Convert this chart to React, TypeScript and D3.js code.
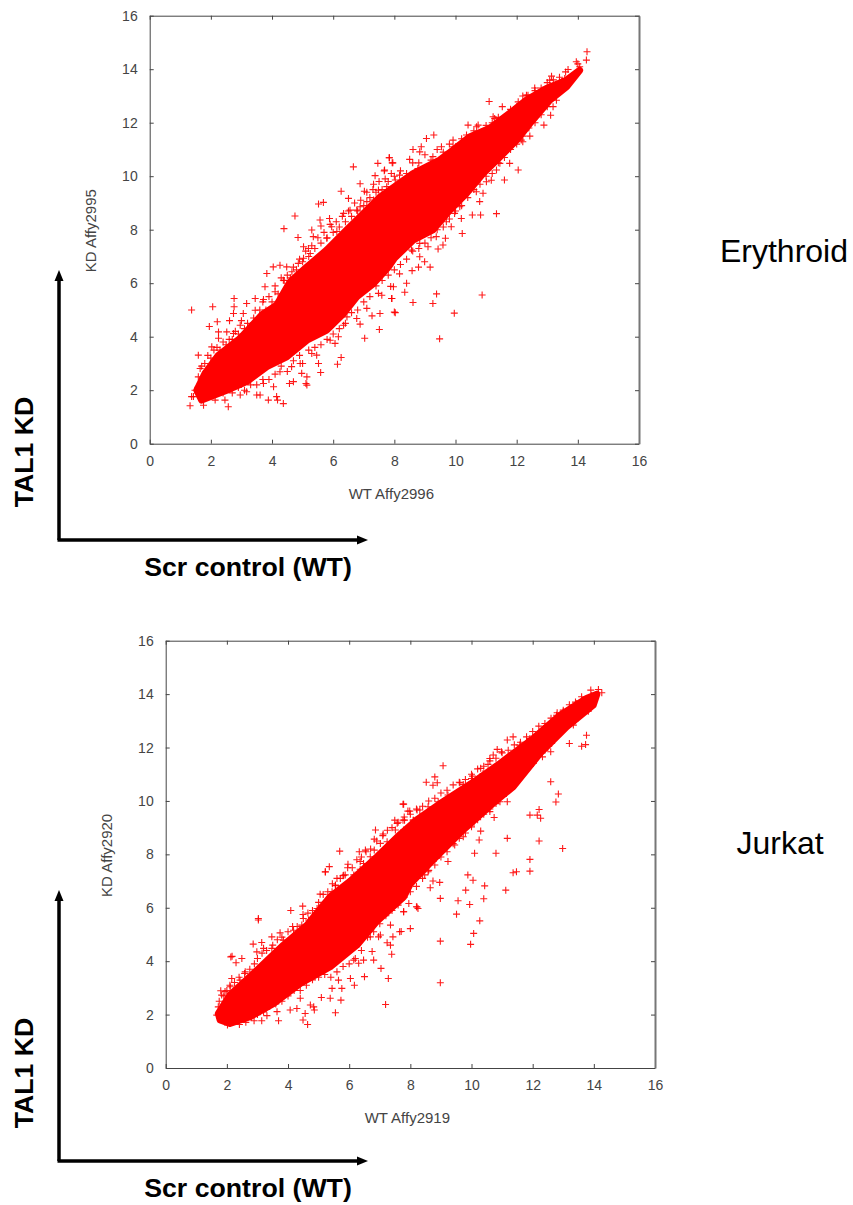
import { useEffect, useRef } from "react";
import * as d3 from "d3";

const WIDTH = 853;
const HEIGHT = 1205;
const RED = "#ff0000";
const FONT = "'Liberation Sans', Arial, sans-serif";
const TICKS = [0, 2, 4, 6, 8, 10, 12, 14, 16];

type Pt = [number, number];

// solid part of the cloud, read as an upper and a lower edge
const erythroidUpper: Pt[] = [[1.54, 2.0], [1.81, 2.63], [2.25, 3.31], [2.96, 3.94], [3.66, 4.81], [4.15, 5.18], [4.59, 6.05], [5.14, 6.61], [5.79, 7.24], [6.44, 7.99], [6.99, 8.61], [7.54, 9.23], [8.0, 9.6], [8.61, 10.1], [9.48, 10.6], [9.92, 10.98], [10.46, 11.47], [11.12, 11.79], [11.77, 12.35], [12.32, 12.85], [12.97, 13.28], [13.63, 13.59], [14.06, 13.96]];
const erythroidLower: Pt[] = [[1.7, 1.63], [2.52, 2.0], [3.17, 2.32], [3.83, 2.88], [4.48, 3.25], [5.14, 3.87], [5.79, 4.25], [6.34, 4.87], [6.77, 5.49], [7.32, 5.99], [7.81, 6.61], [8.0, 6.93], [8.61, 7.61], [9.26, 7.99], [9.81, 8.73], [10.36, 9.36], [10.9, 10.1], [11.45, 10.72], [12.0, 11.35], [12.43, 11.97], [13.08, 12.84], [13.63, 13.34]];

const erythroidPoints: Pt[] = [
  [1.37, 5.0], [2.06, 5.12], [1.95, 4.38], [2.21, 4.56], [2.61, 4.6], [2.76, 5.43], [2.76, 5.12], [2.74, 4.87], [1.32, 1.42], [2.57, 1.38],
  [4.37, 1.5], [3.88, 1.63], [4.18, 1.63], [5.59, 2.66], [6.14, 2.97], [6.26, 3.22], [7.03, 3.94], [7.51, 4.27], [7.27, 4.78], [7.53, 4.87],
  [8.03, 4.9], [7.92, 5.43], [6.88, 4.47], [6.17, 4.0], [6.06, 3.75], [5.11, 2.25], [4.57, 2.25], [5.14, 2.5], [5.52, 3.0],
  [10.87, 5.56], [9.96, 4.88], [9.48, 3.92], [9.38, 5.6], [9.26, 5.24], [8.61, 5.28], [8.34, 5.66], [8.4, 6.0], [8.0, 4.92], [7.91, 5.43],
  [7.88, 5.88], [9.17, 6.6], [8.79, 6.6], [8.58, 6.47], [8.17, 6.35], [8.99, 6.8],
  [4.39, 8.04], [4.75, 8.51], [4.85, 7.71], [5.52, 8.96], [5.68, 9.02], [6.26, 9.44], [6.66, 10.35], [6.88, 9.72], [7.46, 10.48], [7.84, 10.69],
  [7.95, 10.5], [7.67, 10.2], [7.37, 10.02], [7.32, 9.7], [5.57, 8.36], [5.6, 8.14], [5.3, 7.99], [5.88, 8.42], [6.5, 9.17], [7.02, 9.44], [5.03, 7.36],
  [14.3, 14.65], [14.28, 14.34], [14.0, 14.2], [13.68, 13.99], [13.14, 13.74], [11.1, 12.79], [11.53, 12.6], [12.32, 13.03], [12.59, 13.3], [13.11, 12.28],
  [12.89, 11.91], [12.43, 11.5], [12.2, 11.29], [12.05, 10.23], [11.77, 10.48], [11.6, 9.86], [11.34, 8.6], [10.82, 8.55], [10.55, 8.55], [10.19, 8.42],
  [10.22, 7.86], [9.67, 7.68], [9.43, 7.28], [9.1, 7.36], [9.29, 11.54], [9.05, 11.41], [8.61, 11.0], [7.83, 10.69], [7.93, 10.5], [8.5, 10.63],
  [10.41, 11.91], [10.74, 11.91], [9.92, 11.35], [11.23, 12.22], [10.79, 9.05], [11.17, 9.85],
  // fringe along the upper edge
  [1.59, 3.31], [1.65, 2.81], [1.59, 2.5], [1.48, 2.0], [1.43, 1.76], [2.03, 3.62], [2.25, 3.94], [2.25, 4.18], [2.52, 4.18], [2.74, 4.12],
  [2.96, 4.43], [3.06, 4.87], [3.17, 5.24], [3.45, 5.43], [3.45, 4.99], [3.72, 5.39], [3.77, 5.87], [4.1, 5.68], [3.83, 6.36], [4.04, 6.61],
  [4.37, 6.11], [4.26, 6.67], [4.48, 6.61], [4.65, 6.43], [4.86, 6.74], [5.25, 7.11], [5.03, 6.93], [5.19, 7.3], [5.35, 7.74], [5.79, 7.68],
  [5.95, 8.11], [6.12, 7.93], [6.34, 8.61], [6.55, 8.73], [6.77, 8.73], [6.88, 8.86], [7.1, 9.05], [7.32, 9.11], [7.48, 9.48], [7.75, 9.61],
  [8.03, 9.86], [7.68, 10.23], [8.17, 10.04], [8.77, 10.29], [8.88, 11.1], [8.83, 10.91], [9.26, 10.73], [9.54, 11.1], [9.92, 11.1], [10.36, 11.54],
  [10.69, 11.85], [11.02, 11.72], [11.28, 12.16], [11.72, 12.28], [12.05, 12.78], [12.37, 13.03], [12.86, 13.22], [13.08, 13.59], [13.57, 13.65], [13.95, 14.28], [14.06, 14.09],
  // fringe along the lower edge
  [1.37, 1.76], [1.76, 1.44], [2.14, 1.63], [2.46, 1.63], [2.96, 1.82], [3.5, 1.82], [3.61, 1.82], [3.17, 1.94], [3.72, 2.25], [4.05, 2.13],
  [4.15, 1.76], [4.26, 2.69], [4.64, 2.88], [4.7, 2.32], [4.97, 2.63], [5.14, 2.19], [4.92, 3.0], [5.3, 3.37], [5.46, 3.31], [5.9, 3.87],
  [6.34, 4.43], [6.45, 4.74], [6.77, 4.68], [7.1, 5.06], [7.48, 5.62], [7.59, 5.55], [7.97, 5.87],
  [13.3, 12.84], [13.19, 12.6], [12.65, 12.22], [12.15, 11.35], [11.88, 11.23], [11.45, 10.48], [11.34, 10.23], [11.01, 9.79], [10.9, 9.36], [10.68, 9.42],
  [10.41, 9.42], [10.14, 8.86], [9.97, 8.61], [9.7, 8.3], [9.86, 8.11], [9.37, 7.74], [9.59, 7.43], [8.83, 7.49], [8.56, 7.24], [8.83, 6.99],
];

// crowded marks right next to the solid part
const erythroidCrowd: Pt[] = [
  [1.7, 2.9], [1.8, 3.0], [1.9, 3.3], [2.0, 3.2], [2.1, 3.5], [2.2, 3.6], [2.3, 3.5], [2.4, 3.8], [2.5, 3.7], [2.6, 3.9], [2.7, 3.9], [2.8, 4.2], [2.9, 4.1], [3.0, 4.6],
  [3.1, 4.3], [3.2, 4.5], [3.3, 4.4], [3.4, 4.7], [3.5, 4.6], [3.6, 5.0], [3.7, 5.3], [3.8, 5.0], [3.9, 5.5], [4.0, 5.3], [4.1, 5.9], [4.2, 5.6], [4.3, 6.2], [4.4, 6.1],
  [4.5, 6.3], [4.6, 6.2], [4.7, 6.6], [4.8, 6.5], [4.9, 6.9], [5.0, 6.8], [5.1, 7.2], [5.2, 7.0], [5.3, 7.4], [5.4, 7.3], [5.5, 7.7], [5.6, 7.5], [5.7, 7.9], [5.8, 7.7],
  [5.9, 8.2], [6.0, 7.9], [6.1, 8.3], [6.2, 8.1], [6.3, 8.5], [6.4, 8.3], [6.5, 8.7], [6.6, 8.5], [6.7, 9.0], [6.8, 8.7], [6.9, 9.1], [7.0, 8.9], [7.1, 9.4], [7.2, 9.2],
  [7.3, 9.5], [7.4, 9.4], [7.5, 9.8], [7.6, 9.5], [7.7, 9.9], [7.8, 9.8], [7.9, 10.1], [8.0, 10.0], [8.2, 10.2], [8.4, 10.1], [8.6, 10.5], [8.8, 10.5], [9.0, 10.8], [9.2, 10.6],
  [9.4, 11.0], [9.6, 10.9], [9.8, 11.2], [10.0, 11.1], [10.2, 11.4], [10.4, 11.4], [10.6, 11.7], [10.8, 11.6], [11.0, 11.9], [11.2, 12.0], [11.4, 12.2], [11.6, 12.2], [11.8, 12.5],
  [12.0, 12.6], [12.2, 13.0], [12.4, 12.9], [12.6, 13.2], [12.8, 13.3], [13.0, 13.5], [13.2, 13.6], [13.4, 13.7], [13.6, 13.9],
  [2.0, 1.8], [2.2, 1.9], [2.4, 1.9], [2.7, 1.9], [2.9, 2.1], [3.1, 2.0], [3.3, 2.2], [3.5, 2.2], [3.7, 2.4], [3.9, 2.4], [4.1, 2.6], [4.3, 2.9], [4.5, 2.7], [4.7, 3.1],
  [4.9, 3.3], [5.0, 3.0], [5.2, 3.5], [5.4, 3.6], [5.6, 3.7], [5.8, 3.9], [6.0, 4.1], [6.2, 4.3], [6.4, 4.5], [6.6, 4.9], [6.8, 5.0], [7.0, 5.3], [7.2, 5.5], [7.4, 5.9],
  [7.6, 6.1], [7.8, 6.3], [8.0, 6.5], [8.2, 6.7], [8.4, 6.9], [8.6, 7.2], [8.8, 7.3], [9.0, 7.5], [9.2, 7.7], [9.4, 8.0], [9.6, 8.1], [9.8, 8.4], [10.0, 8.7], [10.2, 8.9],
  [10.4, 9.2], [10.6, 9.5], [10.8, 9.7], [11.0, 10.0], [11.2, 10.1], [11.4, 10.5], [11.6, 10.7], [11.8, 11.0], [12.0, 11.2], [12.2, 11.5], [12.4, 11.8], [12.6, 12.0], [12.8, 12.3], [13.0, 12.6],
];

const jurkatUpper: Pt[] = [[1.72, 2.04], [2.1, 2.73], [2.76, 3.42], [3.85, 4.6], [4.62, 5.35], [5.38, 6.41], [6.04, 7.0], [6.9, 7.9], [7.67, 8.75], [8.22, 9.3], [9.07, 9.97], [10.16, 10.78], [10.93, 11.4], [12.02, 12.34], [12.89, 13.2], [13.76, 13.84], [14.1, 14.0]];
const jurkatLower: Pt[] = [[1.78, 1.8], [2.1, 1.67], [2.76, 1.92], [3.53, 2.42], [4.4, 3.17], [5.38, 3.79], [6.25, 4.6], [6.91, 5.5], [7.78, 6.41], [8.0, 6.9], [8.74, 7.79], [9.72, 8.91], [10.7, 9.91], [11.36, 10.53], [12.24, 11.78], [13.11, 12.78], [13.98, 13.59]];

const jurkatPoints: Pt[] = [
  [3.03, 5.54], [3.03, 5.6], [4.09, 5.9], [4.48, 6.06], [4.49, 5.75], [5.05, 6.51], [2.86, 4.64], [3.14, 4.7], [3.47, 4.91], [3.74, 5.06],
  [2.13, 4.16], [2.17, 4.18], [2.3, 3.94], [2.49, 4.1], [2.16, 3.35], [2.58, 3.54], [1.8, 2.89], [1.72, 2.29], [2.02, 1.61], [2.41, 1.63],
  [2.62, 1.71], [3.14, 1.77], [3.69, 1.77], [4.64, 1.63], [4.49, 1.8], [4.86, 2.17], [4.73, 2.36], [5.55, 2.07], [5.09, 2.64], [5.73, 2.54],
  [7.19, 2.38], [7.28, 3.35], [7.04, 3.73], [6.8, 4.04], [6.75, 4.36], [6.5, 3.42], [6.17, 3.1], [6.04, 3.35], [7.39, 4.26], [7.35, 4.6],
  [7.24, 4.69], [7.43, 4.91], [7.7, 5.11], [8.0, 5.22], [8.22, 6.03], [7.78, 5.85], [6.96, 4.91], [5.22, 7.34],
  [8.98, 3.19], [8.98, 4.75], [9.97, 4.63], [10.07, 5.04], [10.27, 5.51], [9.51, 5.76], [9.94, 6.12], [9.56, 6.26], [8.98, 6.35], [10.4, 6.34],
  [9.81, 6.66], [10.43, 6.82], [10.05, 7.03], [9.88, 7.23], [11.12, 6.66], [11.36, 7.31], [11.47, 7.35], [11.91, 7.37], [8.96, 6.95], [8.74, 7.0],
  [8.65, 6.75], [8.2, 6.04], [8.25, 5.97], [7.65, 5.1],
  [14.15, 14.17], [14.26, 14.05], [13.9, 14.15], [13.76, 12.46], [13.73, 12.11], [13.6, 12.05], [13.2, 12.15], [12.59, 10.72], [12.84, 10.26], [12.76, 9.96],
  [11.91, 9.47], [12.15, 9.47], [12.21, 9.68], [12.26, 9.35], [12.21, 8.5], [12.98, 8.22], [11.17, 8.6], [10.8, 8.04], [10.25, 8.54], [10.1, 8.04],
  [9.23, 7.73], [11.91, 7.81], [9.07, 11.32], [8.8, 10.9], [8.52, 10.7], [8.74, 10.59], [8.88, 10.68], [11.17, 12.28], [11.36, 12.4], [10.84, 11.93],
  [10.6, 11.59], [10.54, 11.37], [10.3, 11.22], [10.03, 10.93], [9.62, 10.68], [9.73, 10.62], [7.76, 9.88], [7.92, 9.62], [8.31, 9.66], [8.58, 9.78],
  [12.78, 13.21], [13.82, 13.36], [7.76, 9.28], [8.09, 9.28], [10.74, 9.38], [10.93, 9.97], [11.17, 9.97], [10.3, 8.87], [12.32, 11.65], [12.59, 11.84],
  [7.78, 9.88], [7.98, 9.62], [7.49, 9.28], [7.81, 9.28], [8.11, 9.28], [8.22, 9.66], [6.86, 8.91], [7.11, 8.76], [6.82, 8.57], [5.69, 8.12],
  [6.33, 8.1], [6.53, 8.16], [6.82, 8.16], [5.96, 7.63], [5.35, 7.54], [5.22, 7.35], [6.36, 7.73], [6.36, 7.44], [6.15, 7.23], [5.71, 7.1], [5.55, 6.83],
  // fringe along the upper edge
  [1.83, 2.73], [1.94, 2.86], [2.11, 3.04], [2.43, 3.29], [2.98, 4.35], [3.2, 4.48], [3.47, 4.48], [3.85, 4.79], [4.18, 5.16], [4.45, 5.35],
  [4.67, 5.54], [4.95, 5.97], [5.44, 6.6], [5.55, 6.85], [5.82, 7.22], [6.2, 7.22], [5.87, 7.23], [6.47, 7.66], [6.69, 7.91], [7.02, 8.41],
  [7.24, 8.47], [7.51, 8.91], [7.57, 9.16], [7.78, 8.91], [8.31, 9.41], [8.63, 9.6], [8.91, 9.97], [9.23, 10.22], [10.0, 10.84], [10.38, 11.03],
  [10.71, 11.72], [10.98, 11.84], [11.58, 12.09], [11.91, 12.34], [12.35, 12.71], [13.0, 13.34], [13.44, 13.65], [13.93, 13.96],
  // fringe along the lower edge
  [1.67, 1.98], [1.83, 1.8], [2.22, 1.73], [2.89, 1.77], [3.31, 1.96], [3.64, 2.11], [4.07, 2.17], [4.29, 2.23], [4.4, 2.61], [4.56, 2.04],
  [4.84, 2.29], [5.38, 2.61], [5.44, 2.98], [5.76, 2.98], [5.65, 3.29], [6.15, 4.04], [6.31, 3.92], [6.47, 4.04], [6.69, 4.91], [7.02, 4.98],
  [7.35, 5.35], [7.78, 5.85], [7.95, 6.16],
  [13.82, 13.59], [13.33, 12.84], [12.62, 12.15], [12.02, 11.4], [11.47, 10.9], [11.14, 10.28], [10.6, 9.6], [10.0, 9.03], [9.73, 8.66], [9.45, 8.35],
  [8.85, 7.85], [8.47, 7.23], [8.58, 7.35],
];

const jurkatCrowd: Pt[] = [
  [1.75, 2.5], [1.9, 2.7], [2.0, 2.9], [2.1, 3.1], [2.25, 3.2], [2.4, 3.4], [2.6, 3.6], [2.75, 3.7], [2.9, 3.9], [3.0, 4.1], [3.15, 4.3], [3.3, 4.4], [3.5, 4.6], [3.65, 4.8],
  [3.8, 4.9], [4.0, 5.1], [4.15, 5.3], [4.3, 5.3], [4.5, 5.6], [4.65, 5.8], [4.8, 5.9], [5.0, 6.2], [5.15, 6.5], [5.3, 6.6], [5.45, 6.9], [5.6, 7.1], [5.8, 7.2], [5.95, 7.5],
  [6.1, 7.5], [6.25, 7.8], [6.4, 7.9], [6.55, 8.1], [6.7, 8.2], [6.9, 8.5], [7.1, 8.7], [7.25, 8.9], [7.4, 9.0], [7.6, 9.2], [7.8, 9.4], [8.0, 9.5], [8.2, 9.7], [8.4, 9.8],
  [8.6, 10.0], [8.8, 10.1], [9.0, 10.3], [9.2, 10.4], [9.4, 10.6], [9.6, 10.7], [9.8, 10.8], [10.0, 11.0], [10.2, 11.2], [10.4, 11.3], [10.6, 11.5], [10.8, 11.6], [11.0, 11.8],
  [11.2, 11.9], [11.4, 12.1], [11.6, 12.2], [11.8, 12.4], [12.0, 12.6], [12.2, 12.8], [12.4, 12.9], [12.6, 13.1], [12.8, 13.3], [13.0, 13.4], [13.2, 13.6], [13.4, 13.7], [13.6, 13.9],
  [2.0, 1.75], [2.3, 1.8], [2.6, 1.85], [2.8, 1.9], [3.0, 2.0], [3.2, 2.1], [3.4, 2.3], [3.6, 2.4], [3.8, 2.5], [4.0, 2.7], [4.2, 2.9], [4.4, 2.9], [4.6, 3.1], [4.8, 3.3],
  [5.0, 3.4], [5.2, 3.5], [5.4, 3.4], [5.6, 3.6], [5.8, 3.8], [6.0, 3.9], [6.2, 4.1], [6.4, 4.4], [6.6, 4.9], [6.8, 5.1], [7.0, 5.4], [7.2, 5.7], [7.4, 5.9], [7.6, 6.1],
  [7.8, 6.4], [8.0, 6.6], [8.2, 6.8], [8.4, 7.1], [8.6, 7.4], [8.8, 7.6], [9.0, 7.9], [9.2, 8.1], [9.4, 8.4], [9.6, 8.6], [9.8, 8.8], [10.0, 9.1], [10.2, 9.3], [10.4, 9.5],
  [10.6, 9.7], [10.8, 9.9], [11.0, 10.2], [11.2, 10.4], [11.4, 10.7], [11.6, 10.9], [11.8, 11.2], [12.0, 11.5], [12.2, 11.7], [12.4, 11.9], [12.6, 12.2], [12.8, 12.5], [13.0, 12.7],
  [13.2, 12.9], [13.4, 13.0], [13.6, 13.3],
];

const Scatter = ({ left, right, top, bottom, xLabel, yLabel, upper, lower, points }: any) => {
  const axesRef = useRef<SVGGElement>(null);
  const xScale = d3.scaleLinear().domain([0, 16]).range([left, right]);
  const yScale = d3.scaleLinear().domain([0, 16]).range([bottom, top]);

  useEffect(() => {
    const g = d3.select(axesRef.current);
    g.selectAll("*").remove();
    const bottomAxis = d3.axisBottom(xScale).tickValues(TICKS).tickSizeInner(-4).tickSizeOuter(0).tickPadding(12);
    const leftAxis = d3.axisLeft(yScale).tickValues(TICKS).tickSizeInner(-4).tickSizeOuter(0).tickPadding(12);
    const topAxis = d3.axisTop(xScale).tickValues(TICKS).tickSizeInner(-4).tickSizeOuter(0).tickFormat(() => "");
    const rightAxis = d3.axisRight(yScale).tickValues(TICKS).tickSizeInner(-4).tickSizeOuter(0).tickFormat(() => "");
    g.append("g").attr("transform", `translate(0,${bottom})`).call(bottomAxis);
    g.append("g").attr("transform", `translate(${left},0)`).call(leftAxis);
    g.append("g").attr("transform", `translate(0,${top})`).call(topAxis);
    const r = g.append("g").attr("transform", `translate(${right},0)`).call(rightAxis);
    g.selectAll("g").attr("font-family", FONT).attr("font-size", 14);
    g.selectAll("text").attr("fill", "#444");
    g.selectAll(".tick line, g > .domain").attr("stroke", "#444");
    r.select(".domain").attr("stroke", "#777").attr("stroke-width", 2);
  }, []);

  const outline = d3
    .line<Pt>()
    .x((d) => xScale(d[0]))
    .y((d) => yScale(d[1]))
    .curve(d3.curveLinearClosed);

  return (
    <g>
      <path
        d={outline([...upper, ...[...lower].reverse()]) || ""}
        fill={RED}
        stroke={RED}
        strokeWidth={7}
        strokeLinejoin="round"
      />
      {points.map((d: Pt, i: number) => (
        <path
          key={i}
          d="M-3.5,0H3.5M0,-3.5V3.5"
          transform={`translate(${xScale(d[0])},${yScale(d[1])})`}
          stroke={RED}
          strokeWidth={1.1}
          fill="none"
          opacity={0.9}
        />
      ))}
      <g ref={axesRef} />
      <text x={(left + right) / 2 - 3} y={bottom + 55} textAnchor="middle" fontFamily={FONT} fontSize={15} fill="#444">
        {xLabel}
      </text>
      <text
        transform={`translate(${left - 54},${(top + bottom) / 2 + 1}) rotate(-90)`}
        textAnchor="middle"
        fontFamily={FONT}
        fontSize={15}
        fill="#444"
      >
        {yLabel}
      </text>
    </g>
  );
};

const Arrows = ({ originY, topY }: { originY: number; topY: number }) => (
  <g>
    <path d={`M59,${originY}V${topY + 8}`} stroke="#000" strokeWidth={3.5} fill="none" />
    <path d={`M57.5,${originY}H358`} stroke="#000" strokeWidth={3.5} fill="none" />
    <path d={`M59,${topY}l-4.5,11h9z`} fill="#000" />
    <path d={`M368,${originY}l-11,-4.5v9z`} fill="#000" />
    <text
      transform={`translate(33,${originY - 88}) rotate(-90)`}
      textAnchor="middle"
      fontFamily={FONT}
      fontWeight="bold"
      fontSize={26.7}
      fill="#000"
    >
      TAL1 KD
    </text>
    <text x={248} y={originY + 36} textAnchor="middle" fontFamily={FONT} fontWeight="bold" fontSize={26.7} fill="#000">
      Scr control (WT)
    </text>
  </g>
);

export default function App() {
  return (
    <svg width={WIDTH} height={HEIGHT} style={{ position: "absolute", left: 0, top: 0, display: "block" }}>
      <rect width={WIDTH} height={HEIGHT} fill="#fff" />
      <Scatter
        left={149.7}
        right={639}
        top={15.7}
        bottom={443.7}
        xLabel="WT Affy2996"
        yLabel="KD Affy2995"
        upper={erythroidUpper}
        lower={erythroidLower}
        points={[...erythroidCrowd, ...erythroidPoints]}
      />
      <Scatter
        left={165.7}
        right={655}
        top={640.7}
        bottom={1068}
        xLabel="WT Affy2919"
        yLabel="KD Affy2920"
        upper={jurkatUpper}
        lower={jurkatLower}
        points={[...jurkatCrowd, ...jurkatPoints]}
      />
      <Arrows originY={540} topY={270} />
      <Arrows originY={1161} topY={890} />
      <text x={784} y={262} textAnchor="middle" fontFamily={FONT} fontSize={32} fill="#000">
        Erythroid
      </text>
      <text x={780} y={854} textAnchor="middle" fontFamily={FONT} fontSize={32} fill="#000">
        Jurkat
      </text>
    </svg>
  );
}
